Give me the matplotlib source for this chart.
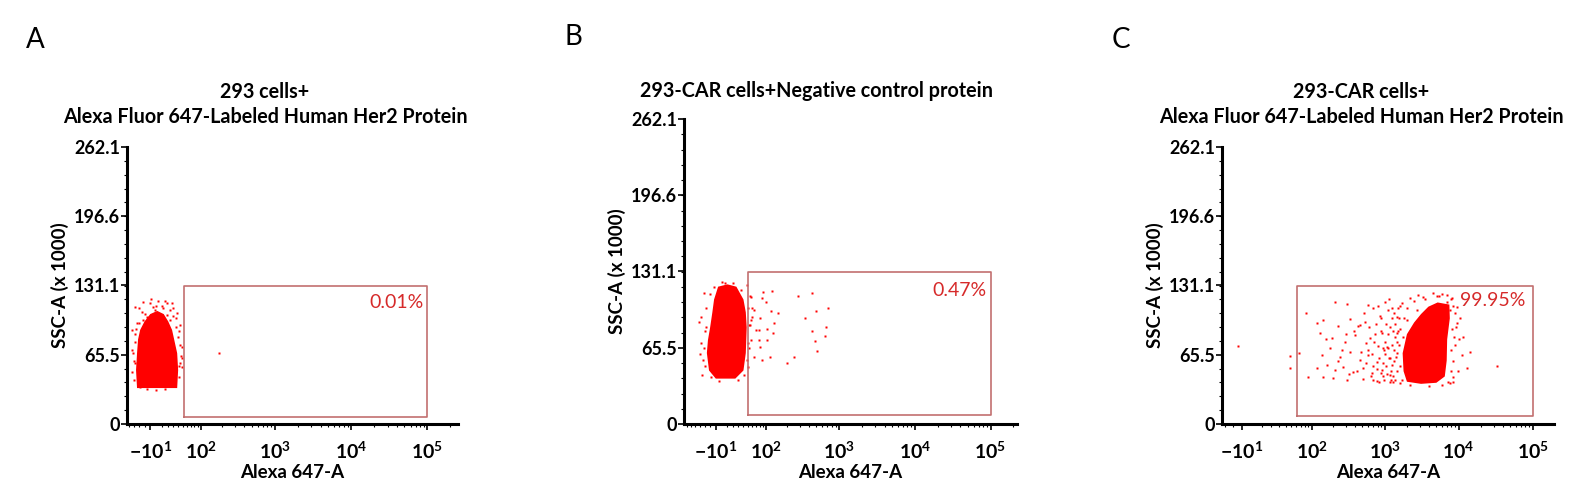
import numpy as np
import matplotlib
matplotlib.use("Agg")
import matplotlib.pyplot as plt
from matplotlib.ticker import FixedLocator, NullFormatter

plt.rcParams['font.family'] = ['Lato', 'DejaVu Sans']
plt.rcParams['mathtext.fontset'] = 'custom'
plt.rcParams['mathtext.rm'] = 'Lato:bold'
plt.rcParams['mathtext.bf'] = 'Lato:bold'
plt.rcParams['mathtext.default'] = 'bf'

# ---- data (x = Alexa 647-A intensity, y = SSC-A x 1000) ----
titles = [["293 cells+", "Alexa Fluor 647-Labeled Human Her2 Protein"],
          ["293-CAR cells+Negative control protein"],
          ["293-CAR cells+", "Alexa Fluor 647-Labeled Human Her2 Protein"]]
letters = ["A", "B", "C"]
pcts = ["0.01%", "0.47%", "99.95%"]

y_ticks = [0, 65.5, 131.1, 196.6, 262.1]
x_ticks = [-10, 100, 1000, 10000, 100000]
x_ticklabels = [r"$-10^{1}$", r"$10^{2}$", r"$10^{3}$", r"$10^{4}$", r"$10^{5}$"]

# gate rectangles [x0, x1, y0, y1]
gate_a = [54, 100000, 6.6, 130.6]
gate_b = [50, 100000, 7.7, 130.6]
gate_c = [62, 100000, 7.6, 130.5]

# dense core outlines
core_a_x = [-34, -36, -34, -32, -28, -20, -10, 2, 13, 21, 28, 32, 38, 40, 38]
core_a_y = [34, 51, 67, 80, 89, 97, 104, 107, 104, 97, 89, 80, 67, 51, 34]

core_b_x = [-10, -22, -26, -24, -20, -16, -13, -6, 10, 26, 40, 45, 47, 46, 45, 40, 24]
core_b_y = [39, 46, 61, 72, 83, 96, 107, 118, 120, 118, 107, 96, 83, 72, 61, 46, 39]

core_c_x = [2000, 1800, 1750, 2000, 2500, 3100, 3900, 5200, 7500, 7600, 7000, 6900, 6500, 5000, 3100]
core_c_y = [40, 50, 67, 85, 96, 104, 111, 115, 113, 100, 80, 60, 45, 39, 38]

# scattered events
spk_a_x = [-22, -10, 3.5, 19, 28, -38, -24, 12, 38, 44, -44, -34, 40, 49, 44, 42, -44, -42, -38,
           -15, -1.5, 19, 6, 24, -22, 180, 49, -40, 36, 42, -30, 30, -36, 45, 10, -5,
           -40, -38, -39, 42, 44, 35, 30, -30, -20, 0, 15, -8, 25, -44, 48, -28, 30, 0, -15, 15]
spk_a_y = [115.4, 114.5, 116, 114.5, 114.5, 110.7, 106, 110, 105, 93.7, 89, 95.6, 82, 73, 58, 44.5, 49,
           67, 77.6, 101, 108, 103, 100, 98, 98, 67, 54, 60, 100, 88, 110, 110, 90, 64, 112, 111,
           42, 58, 85, 55, 75, 92, 102, 96, 104, 112, 116, 118, 108, 70, 62, 35, 36, 32, 33, 33]

spk_b_x = [92, 125, 280, 441, 499, 716, 357, 441, 675, 655, 484, 515, 252, 201, 86, 114, 106, 129,
           152, 118, 80, 103, 77, 133, 86, 100,
           -32, -36, -38, -38, -28, 56, 58, 71, 64, 51, 56, 47, 6, -13, 64, 77, 82, -34, 60, 52, 55,
           -30, -32, -30, -28, -20, 0, 20, 35, 50, 52, 50, 48, 42, 30, -5, -18, -40, -42, 55, 60]
spk_b_y = [113.4, 114, 110, 113, 97, 100, 91, 80, 83, 76, 71, 63, 58, 52, 55, 58, 72, 78,
           95, 97, 91, 82, 81, 87, 108, 105,
           112.6, 42, 70, 92, 83, 89, 72, 81, 57.6, 49, 109, 119.5, 121, 117.7, 98, 72, 66, 55, 100, 65, 85,
           50, 65, 80, 100, 112, 122, 121, 115, 100, 85, 70, 55, 42, 38, 37, 40, 60, 88, 110, 92]

spk_c_x = [83, 211, 306, 589, 804, 120, 145, 231, 336, 459, 536, 132, 192, 288, 393, 627, 910, 1064,
           180, 246, 336, 459, 589, 778, 1167, 120, 164, 211, 270, 369, 504, 667, 910, 1167, 88, 145,
           201, 306, 504, 778, 1282, 1452, 1452, 1452, 1694, 2174, 3258, 5035, 8030, 9390, 9390, 11300,
           14100, 12800, 8300, 7550, 1592, 1980, 1750, 1980, 2700, 6870,
           1300, 1350, 1250, 1400, 1200, 1100, 1350, 1500, 1250, 1150, 1050, 1450, 1300, 1400, 1200,
           980, 1050, 900, 950, 1100, 8500, 9000, 8200, 9800, 8800, 7800, 10500, 11000, 7000, 6000,
           4500, 2800, -14.5, 47, 47, 65, 32600,
           600, 700, 750, 850, 880, 1000, 650, 560, 480, 420, 380, 520, 700, 1000, 1150, 760, 820, 870,
           940, 1020, 1120, 1180, 1240, 1320, 1380, 1420, 1480, 1500, 1550, 1600, 1250, 1180, 1080, 990,
           830, 700, 260, 230, 160, 140, 300, 330, 440, 560, 620, 680, 720, 780, 900, 960,
           8000, 8600, 7900, 8400, 9200, 10200, 7600, 8300, 5500, 3500, 2500, 2000, 1800, 1600, 1550,
           1600, 1700, 2200, 4000, 6000, 7200]
spk_c_y = [105, 115, 113.5, 112.6, 111.6, 95.6, 98, 92.7, 99, 93.7, 96.5, 86, 81, 77.6, 84, 81, 86, 73,
           72, 63, 68, 60.5, 65, 58.7, 62.4, 53, 55.8, 51, 54, 49, 53, 48, 51, 46, 44.5, 44.5,
           43.5, 41.6, 42.6, 40.7, 40, 67, 86, 101, 114.5, 119, 120, 121, 119, 111, 95.6, 82,
           68, 53, 44.5, 39, 39, 54, 82, 98, 108, 115,
           45, 60, 75, 95, 50, 85, 105, 110, 100, 62, 55, 78, 88, 42, 42,
           70, 95, 100, 45, 108, 60, 75, 90, 50, 105, 118, 100, 65, 122, 123,
           124, 122, 74, 64, 53, 67, 55,
           70, 55, 85, 62, 48, 78, 45, 77, 68, 50, 88, 105, 110, 115, 118, 95, 74, 102,
           58, 66, 72, 92, 56, 70, 82, 63, 50, 88, 100, 112, 110, 40, 47, 42,
           40, 42, 70, 60, 80, 65, 85, 47, 93, 58, 92, 66, 78, 52, 88, 72,
           70, 82, 50, 40, 92, 80, 108, 112, 121, 118, 116, 110, 100, 90, 75,
           55, 42, 37, 36, 37, 40]

panels = [
    dict(gate=gate_a, cx=core_a_x, cy=core_a_y, sx=spk_a_x, sy=spk_a_y, c=28, ul=1.066, ur=5.40,
         pos=[127, 147, 331, 277], tx=88700, ty=115.4, title_x=265, letter=(35, 40)),
    dict(gate=gate_b, cx=core_b_x, cy=core_b_y, sx=spk_b_x, sy=spk_b_y, c=28, ul=0.95, ur=5.35,
         pos=[684, 119, 333, 305], tx=88700, ty=115, title_x=816, letter=(573, 37)),
    dict(gate=gate_c, cx=core_c_x, cy=core_c_y, sx=spk_c_x, sy=spk_c_y, c=16, ul=0.80, ur=5.29,
         pos=[1222, 147, 332, 277], tx=80400, ty=117.3, title_x=1361, letter=(1121, 40)),
]

W, H = 1582, 499
fig = plt.figure(figsize=(W / 100, H / 100), dpi=100)

red = '#ff0000'
gate_col = '#c27070'
pct_col = '#d62a2a'

for i, p in enumerate(panels):
    x0, y0, w, h = p['pos']
    ax = fig.add_axes([x0 / W, 1 - (y0 + h) / H, w / W, h / H])
    c = p['c']

    def fwd(x, c=c):
        return np.arcsinh(np.asarray(x, dtype=float) / (2 * c)) / np.log(10) + np.log10(c)

    def inv(u, c=c):
        return 2 * c * np.sinh((np.asarray(u, dtype=float) - np.log10(c)) * np.log(10))

    ax.set_xscale('function', functions=(fwd, inv))
    ax.set_xlim(float(inv(p['ul'])), float(inv(p['ur'])))
    ax.set_ylim(0, 262.1)

    # events
    ax.fill(p['cx'], p['cy'], color=red, lw=0, zorder=2)
    ax.plot(p['sx'], p['sy'], 's', ms=1.6, color=red, mec='none', zorder=2)

    # gate
    g = p['gate']
    ax.plot([g[0], g[1], g[1], g[0], g[0]], [g[2], g[2], g[3], g[3], g[2]],
            color=gate_col, lw=1.2, zorder=3)
    ax.text(p['tx'], p['ty'], pcts[i], color=pct_col, fontsize=14, ha='right', va='center')

    # axes styling
    for s in ['top', 'right']:
        ax.spines[s].set_visible(False)
    for s in ['left', 'bottom']:
        ax.spines[s].set_linewidth(2.2)
    ax.set_yticks(y_ticks)
    ax.set_yticklabels(['0', '65.5', '131.1', '196.6', '262.1'], fontsize=13, fontweight='bold')
    ax.yaxis.set_minor_locator(FixedLocator(np.arange(13.1, 262, 13.1)))
    ax.set_xticks(x_ticks)
    ax.set_xticklabels(x_ticklabels, fontsize=14)
    minors = [-90, -80, -70, -60, -50, -40, -30, -20, 10, 20, 30, 40, 50, 60, 70, 80, 90]
    for k in [2, 3, 4]:
        minors += [m * 10 ** k for m in range(2, 10)]
    minors += [200000]
    ax.xaxis.set_minor_locator(FixedLocator(minors))
    ax.xaxis.set_minor_formatter(NullFormatter())
    ax.tick_params(axis='both', which='major', length=4, width=1.2, pad=1)
    ax.tick_params(axis='both', which='minor', length=2.5, width=0.8)
    ax.tick_params(axis='x', which='major', pad=8)

    ax.set_xlabel("Alexa 647-A", fontsize=13.5, fontweight='bold')
    ax.set_ylabel("SSC-A (x 1000)", fontsize=13.5, fontweight='bold')
    ax.xaxis.set_label_coords(0.5, -(464 - 424) / h)
    ax.yaxis.set_label_coords(-58 / w, 0.5)

    # titles and panel letters
    lines = titles[i]
    if len(lines) == 2:
        fig.text(p['title_x'] / W, 1 - 92 / H, lines[0], ha='center', va='center',
                 fontsize=14.2, fontweight='bold')
        fig.text(p['title_x'] / W, 1 - 117 / H, lines[1], ha='center', va='center',
                 fontsize=14.2, fontweight='bold')
    else:
        fig.text(p['title_x'] / W, 1 - 91 / H, lines[0], ha='center', va='center',
                 fontsize=14.2, fontweight='bold')
    lx, ly = p['letter']
    fig.text(lx / W, 1 - ly / H, letters[i], ha='center', va='center', fontsize=20)

fig.savefig("out.png", dpi=100)
